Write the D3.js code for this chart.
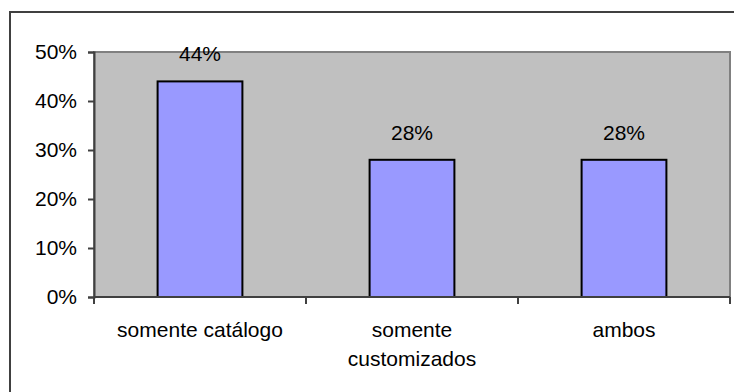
<!DOCTYPE html>
<html>
<head>
<meta charset="utf-8">
<script src="https://cdn.jsdelivr.net/npm/d3@7"></script>
<style>
  html, body { margin: 0; padding: 0; background: #fff; }
  svg { display: block; }
  text { font-family: "Liberation Sans", Arial, sans-serif; font-size: 21px; fill: #000; }
</style>
</head>
<body>
<svg id="chart" width="734" height="392"></svg>
<script>
// Share of respondents by kind of product offered
const categories = ["somente catálogo", "somente customizados", "ambos"];
const values = [0.44, 0.28, 0.28];
const yTicks = [0, 0.1, 0.2, 0.3, 0.4, 0.5];

const svg = d3.select("#chart");
const W = 734, H = 392;
const plot = { left: 94, top: 52, right: 730, bottom: 297 };

// Outer frame of the chart
svg.append("rect")
  .attr("x", 10).attr("y", 12)
  .attr("width", W + 20).attr("height", H + 20)
  .attr("fill", "#fff").attr("stroke", "#404040").attr("stroke-width", 2);

const x = d3.scaleBand()
  .domain(categories)
  .range([plot.left, plot.right])
  .paddingInner(0.6)
  .paddingOuter(0.3);

const y = d3.scaleLinear()
  .domain([0, 0.5])
  .range([plot.bottom, plot.top]);

// Plot area background
svg.append("rect")
  .attr("x", plot.left).attr("y", plot.top)
  .attr("width", plot.right - plot.left).attr("height", plot.bottom - plot.top)
  .attr("fill", "#C0C0C0").attr("stroke", "#808080").attr("stroke-width", 2);

// Bars
svg.append("g").selectAll("rect")
  .data(categories)
  .join("rect")
  .attr("x", d => x(d))
  .attr("y", (d, i) => y(values[i]))
  .attr("width", x.bandwidth())
  .attr("height", (d, i) => y(0) - y(values[i]))
  .attr("fill", "#9999FF")
  .attr("stroke", "#000")
  .attr("stroke-width", 2);

// Value labels above bars
svg.append("g").selectAll("text")
  .data(categories)
  .join("text")
  .attr("x", d => x(d) + x.bandwidth() / 2)
  .attr("y", (d, i) => y(values[i]) - 20)
  .attr("text-anchor", "middle")
  .text((d, i) => d3.format(".0%")(values[i]));

// Y axis
const yAxis = svg.append("g")
  .attr("transform", `translate(${plot.left},0)`)
  .call(d3.axisLeft(y).tickValues(yTicks).tickFormat(d3.format(".0%")).tickSize(6).tickPadding(11));
yAxis.select(".domain").attr("stroke", "#404040").attr("stroke-width", 2);
yAxis.selectAll(".tick line").attr("stroke", "#404040").attr("stroke-width", 2);
yAxis.selectAll(".tick text")
  .style("font-family", "'Liberation Sans', Arial, sans-serif")
  .style("font-size", "21px").attr("fill", "#000");

// X axis line and tick marks between categories
const step = x.step();
const bounds = d3.range(categories.length + 1).map(i => plot.left + i * (plot.right - plot.left) / categories.length);
svg.append("line")
  .attr("x1", plot.left).attr("x2", plot.right)
  .attr("y1", plot.bottom).attr("y2", plot.bottom)
  .attr("stroke", "#404040").attr("stroke-width", 2);
svg.append("g").selectAll("line")
  .data(bounds)
  .join("line")
  .attr("x1", d => d).attr("x2", d => d)
  .attr("y1", plot.bottom).attr("y2", plot.bottom + 7)
  .attr("stroke", "#404040").attr("stroke-width", 2);

// Category labels, wrapped to fit each slot
const maxW = 195, lineH = 29;
const labels = svg.append("g").selectAll("text")
  .data(categories)
  .join("text")
  .attr("text-anchor", "middle")
  .attr("x", d => x(d) + x.bandwidth() / 2)
  .attr("y", plot.bottom + 40);

labels.each(function(d) {
  const t = d3.select(this);
  const cx = +t.attr("x");
  const words = d.split(" ");
  let line = [];
  let tspan = t.append("tspan").attr("x", cx).attr("dy", 0);
  let n = 0;
  words.forEach(w => {
    line.push(w);
    tspan.text(line.join(" "));
    if (tspan.node().getComputedTextLength() > maxW && line.length > 1) {
      line.pop();
      tspan.text(line.join(" "));
      line = [w];
      n++;
      tspan = t.append("tspan").attr("x", cx).attr("dy", lineH).text(w);
    }
  });
});
</script>
</body>
</html>
